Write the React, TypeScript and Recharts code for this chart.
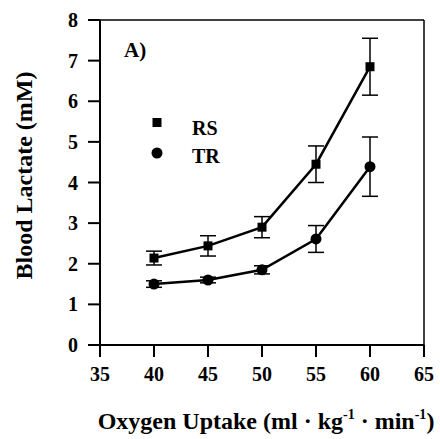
import React from 'react';
import {
  LineChart,
  Line,
  XAxis,
  YAxis,
  ErrorBar,
  ReferenceLine,
  Legend,
  Customized,
} from 'recharts';

// Oxygen uptake levels (ml·kg⁻¹·min⁻¹)
const oxygenUptake = [40, 45, 50, 55, 60];
// RS group: blood lactate mean and error (mM)
const rsLactate = [2.14, 2.44, 2.9, 4.45, 6.85];
const rsError = [0.17, 0.25, 0.26, 0.45, 0.7];
// TR group: blood lactate mean and error (mM)
const trLactate = [1.5, 1.6, 1.85, 2.61, 4.39];
const trError = [0.08, 0.07, 0.1, 0.33, 0.73];

const xTicks = [35, 40, 45, 50, 55, 60, 65];
const yTicks = [0, 1, 2, 3, 4, 5, 6, 7, 8];

const seriesNames = ['RS', 'TR'];
const panelTag = 'A)';

const data = oxygenUptake.map((x, i) => ({
  x,
  rs: rsLactate[i],
  rsErr: rsError[i],
  tr: trLactate[i],
  trErr: trError[i],
}));

const FONT = 'Liberation Serif';
const textStyle = { fontFamily: FONT, fontWeight: 'bold' } as React.CSSProperties;

const SquareDot = (props: any) => {
  const { cx, cy, index } = props;
  if (cx == null || cy == null) return <g key={`s${index}`} />;
  const s = 9;
  return <rect key={`s${index}`} x={cx - s / 2} y={cy - s / 2} width={s} height={s} fill="#000" />;
};

const CircleDot = (props: any) => {
  const { cx, cy, index } = props;
  if (cx == null || cy == null) return <g key={`c${index}`} />;
  return <circle key={`c${index}`} cx={cx} cy={cy} r={5.5} fill="#000" />;
};

const XTick = (props: any) => {
  const { x, y, payload } = props;
  return (
    <text x={x} y={y + 24} textAnchor="middle" fontSize={20} fill="#000" style={textStyle}>
      {payload.value}
    </text>
  );
};

const YTick = (props: any) => {
  const { x, y, payload } = props;
  return (
    <text x={x} y={y + 7} textAnchor="end" fontSize={20} fill="#000" style={textStyle}>
      {payload.value}
    </text>
  );
};

// Legend drawn as a small SVG: marker on the left, bold label on the right
const LegendBox = () => (
  <svg width={90} height={64}>
    <rect x={7.5} y={12} width={9} height={9} fill="#000" />
    <text x={47} y={29} fontSize={20} fill="#000" style={textStyle}>
      {seriesNames[0]}
    </text>
    <circle cx={12} cy={47} r={5.5} fill="#000" />
    <text x={47} y={57} fontSize={20} fill="#000" style={textStyle}>
      {seriesNames[1]}
    </text>
  </svg>
);

const XTitle = (props: any) => {
  const { viewBox } = props;
  const cx = viewBox.x + viewBox.width / 2 + 4;
  return (
    <text x={cx} y={429} textAnchor="middle" fontSize={24} fill="#000" style={textStyle}>
      Oxygen Uptake (ml
      <tspan> · </tspan>kg
      <tspan dy={-10} fontSize={14}>-1</tspan>
      <tspan dy={10}> · </tspan>min
      <tspan dy={-10} fontSize={14}>-1</tspan>
      <tspan dy={10}>)</tspan>
    </text>
  );
};

const YTitle = (props: any) => {
  const { viewBox } = props;
  const x = 32;
  const y = viewBox.y + viewBox.height / 2 - 7;
  return (
    <text
      x={x}
      y={y}
      transform={`rotate(-90 ${x} ${y})`}
      textAnchor="middle"
      fontSize={24}
      fill="#000"
      style={textStyle}
    >
      Blood Lactate (mM)
    </text>
  );
};

const PanelTag = () => (
  <text x={124} y={57} fontSize={21} fill="#000" style={textStyle}>
    {panelTag}
  </text>
);

export default function App() {
  return (
    <div style={{ position: 'absolute', left: 0, top: 0, background: '#fff', fontFamily: FONT }}>
      <LineChart
        width={440}
        height={439}
        data={data}
        margin={{ top: 20, right: 16, bottom: 64, left: 40 }}
        style={{ fontFamily: FONT }}
      >
        <XAxis
          type="number"
          dataKey="x"
          domain={[35, 65]}
          ticks={xTicks}
          interval={0}
          height={30}
          tickSize={12}
          tickMargin={0}
          axisLine={{ stroke: '#000', strokeWidth: 2 }}
          tickLine={{ stroke: '#000', strokeWidth: 2 }}
          tick={<XTick />}
          label={<XTitle />}
        />
        <YAxis
          type="number"
          domain={[0, 8]}
          ticks={yTicks}
          interval={0}
          width={60}
          tickSize={12}
          tickMargin={10}
          axisLine={{ stroke: '#000', strokeWidth: 2 }}
          tickLine={{ stroke: '#000', strokeWidth: 2 }}
          tick={<YTick />}
          label={<YTitle />}
        />
        <ReferenceLine y={8} stroke="#000" strokeWidth={1.5} ifOverflow="extendDomain" />
        <ReferenceLine x={65} stroke="#000" strokeWidth={1.5} ifOverflow="extendDomain" />
        <Line
          dataKey="rs"
          stroke="#000"
          strokeWidth={2.5}
          dot={SquareDot}
          activeDot={false}
          isAnimationActive={false}
        >
          <ErrorBar dataKey="rsErr" width={8} stroke="#000" strokeWidth={1.5} direction="y" />
        </Line>
        <Line
          dataKey="tr"
          stroke="#000"
          strokeWidth={2.5}
          dot={CircleDot}
          activeDot={false}
          isAnimationActive={false}
        >
          <ErrorBar dataKey="trErr" width={8} stroke="#000" strokeWidth={1.5} direction="y" />
        </Line>
        <Legend
          layout="vertical"
          align="center"
          verticalAlign="middle"
          content={<LegendBox />}
          wrapperStyle={{ left: 145, top: 106, width: 90, height: 64 }}
        />
        <Customized component={PanelTag} />
      </LineChart>
    </div>
  );
}
